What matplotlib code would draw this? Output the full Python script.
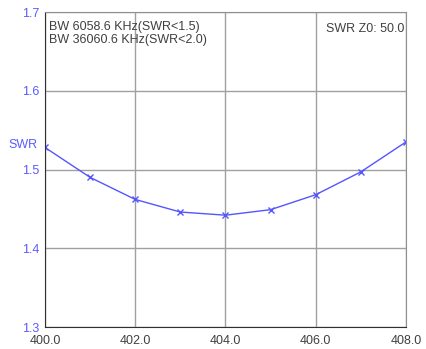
import matplotlib.pyplot as plt

plt.rcParams['font.family'] = ['Liberation Sans', 'DejaVu Sans']

freq = [400, 401, 402, 403, 404, 405, 406, 407, 408]
swr = [1.528, 1.490, 1.462, 1.446, 1.442, 1.449, 1.468, 1.497, 1.535]

x_ticks = [400.0, 402.0, 404.0, 406.0, 408.0]
y_ticks = [1.3, 1.4, 1.5, 1.6, 1.7]

fig = plt.figure(figsize=(4.26, 3.49), dpi=100)
ax = fig.add_axes([0.1056, 0.063, 0.8474, 0.9026])

ax.plot(freq, swr, color='#5555ff', lw=1, marker='x', ms=4.5, mew=1)

ax.set_xlim(400, 408)
ax.set_ylim(1.3, 1.7)
ax.set_xticks(x_ticks)
ax.set_xticklabels(['%.1f' % v for v in x_ticks])
ax.set_yticks(y_ticks)
ax.set_yticklabels(['%.1f' % v for v in y_ticks])
ax.tick_params(length=0, labelsize=9)
ax.tick_params(axis='y', colors='#5a5aff', pad=4)
ax.tick_params(axis='x', colors='#404040', pad=6)
ax.grid(True, color='#a0a0a0', lw=1)

for s in ['top', 'right']:
    ax.spines[s].set_color('#909090')
for s in ['left', 'bottom']:
    ax.spines[s].set_color('#303030')

ax.text(0.01, 0.97, 'BW 6058.6 KHz(SWR<1.5)\nBW 36060.6 KHz(SWR<2.0)',
        transform=ax.transAxes, ha='left', va='top', fontsize=9,
        color='#404040', linespacing=1.1)
ax.text(0.995, 0.965, 'SWR Z0: 50.0', transform=ax.transAxes,
        ha='right', va='top', fontsize=9, color='#404040')
fig.text(8 / 426, 1 - 145 / 349, 'SWR', ha='left', va='center',
         fontsize=9, color='#5a5aff')

fig.savefig('out.png', dpi=100)
